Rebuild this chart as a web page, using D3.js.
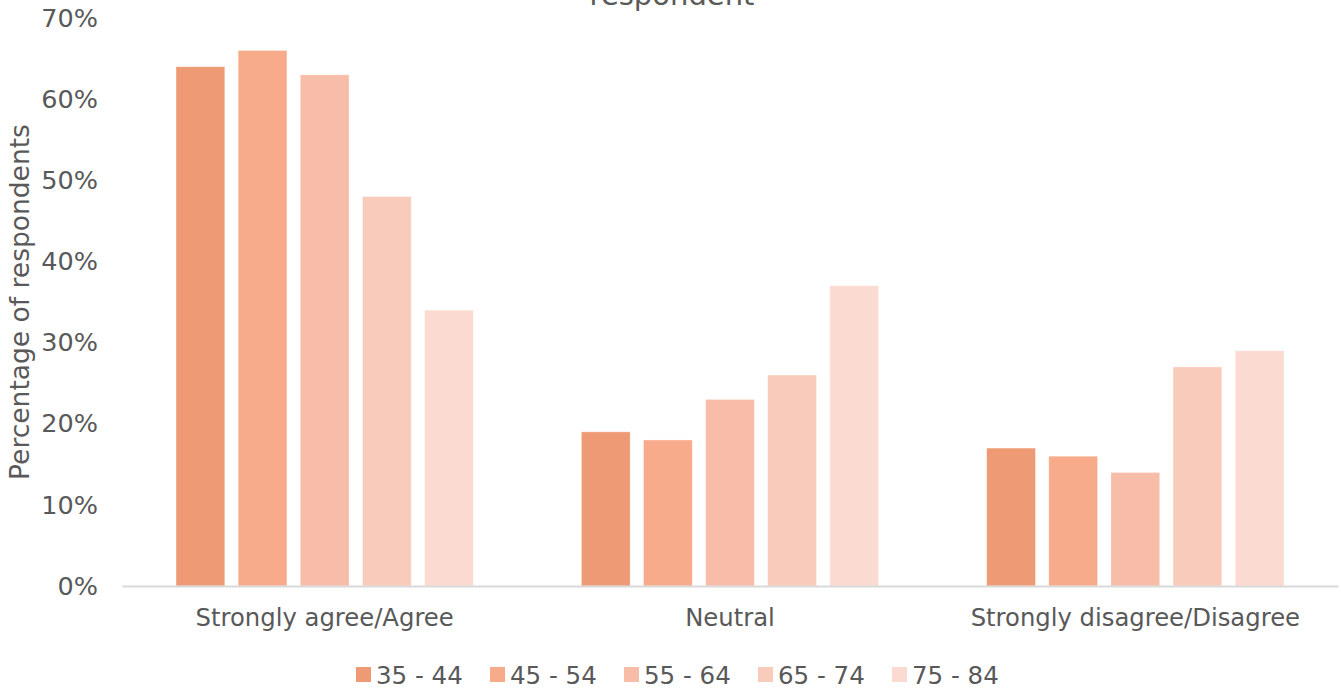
<!DOCTYPE html>
<html>
<head>
<meta charset="utf-8">
<script src="https://cdn.jsdelivr.net/npm/d3@7"></script>
<style>
  html, body { margin: 0; padding: 0; background: #fff; }
  svg { display: block; font-family: "DejaVu Sans", Verdana, sans-serif; }
</style>
</head>
<body>
<svg id="chart" width="1341" height="691"></svg>
<script>
// Responses by age group of respondent
const categories = ["Strongly agree/Agree", "Neutral", "Strongly disagree/Disagree"];
const ageGroups = ["35 - 44", "45 - 54", "55 - 64", "65 - 74", "75 - 84"];
const values = {
  "35 - 44": [64, 19, 17],
  "45 - 54": [66, 18, 16],
  "55 - 64": [63, 23, 14],
  "65 - 74": [48, 26, 27],
  "75 - 84": [34, 37, 29]
};
const colors = ["#EE9B75", "#F8AB8A", "#F8BDA8", "#F9CBBB", "#FBDBD1"];
const yTicks = [0, 10, 20, 30, 40, 50, 60, 70];

const svg = d3.select("#chart");
const W = 1341, H = 691;
const margin = { left: 122, right: 3, top: 18, bottom: 105 };
const textColor = "#595959";

const x0 = d3.scaleBand()
  .domain(categories)
  .range([margin.left, W - margin.right])
  .paddingInner(0)
  .paddingOuter(0);

const x1 = d3.scaleBand()
  .domain(ageGroups)
  .range([54, x0.bandwidth() - 54])
  .paddingInner(0.214)
  .paddingOuter(0);

const y = d3.scaleLinear()
  .domain([0, 70])
  .range([H - margin.bottom, margin.top]);

// Bars
const rows = categories.map((c, i) => ({
  cat: c,
  items: ageGroups.map((g, k) => ({ group: g, value: values[g][i], color: colors[k] }))
}));

svg.append("g")
  .selectAll("g")
  .data(rows)
  .join("g")
  .attr("transform", d => `translate(${x0(d.cat)},0)`)
  .selectAll("rect")
  .data(d => d.items)
  .join("rect")
  .attr("x", d => x1(d.group))
  .attr("y", d => y(d.value))
  .attr("width", x1.bandwidth())
  .attr("height", d => y(0) - y(d.value))
  .attr("fill", d => d.color)
  .attr("stroke", "#ffffff")
  .attr("stroke-opacity", 0.5)
  .attr("stroke-width", 0.75);

// Y axis labels (no axis line)
const yAxis = d3.axisLeft(y)
  .tickValues(yTicks)
  .tickFormat(d => d + "%")
  .tickSize(0)
  .tickPadding(24);

const yg = svg.append("g")
  .attr("transform", `translate(${margin.left},0)`)
  .call(yAxis);
yg.select(".domain").remove();
yg.selectAll("text")
  .attr("fill", textColor)
  .style("font-size", "25.5px")
  .style("font-family", "'DejaVu Sans', Verdana, sans-serif");

// X axis baseline and category labels
const xAxis = d3.axisBottom(x0).tickSize(0).tickPadding(23);
const xg = svg.append("g")
  .attr("transform", `translate(0,${y(0)})`)
  .call(xAxis);
xg.select(".domain").attr("stroke", "#d9d9d9").attr("stroke-width", 2);
xg.selectAll("text")
  .attr("fill", textColor)
  .style("font-size", "24.3px")
  .style("font-family", "'DejaVu Sans', Verdana, sans-serif");

// Y axis title
svg.append("text")
  .attr("transform", `translate(29,${(y(0) + y(70)) / 2}) rotate(-90)`)
  .attr("text-anchor", "middle")
  .attr("fill", textColor)
  .style("font-size", "26.5px")
  .text("Percentage of respondents");

// Chart title (second line)
svg.append("text")
  .attr("x", 672)
  .attr("y", 5)
  .attr("text-anchor", "middle")
  .attr("fill", textColor)
  .style("font-size", "29px")
  .text("respondent");

// Legend
const legend = svg.append("g").attr("transform", `translate(0,675)`);
const legendX = [356, 490, 624, 758, 892];
const li = legend.selectAll("g")
  .data(ageGroups)
  .join("g")
  .attr("transform", (d, i) => `translate(${legendX[i]},0)`);
li.append("rect")
  .attr("x", 0).attr("y", -8)
  .attr("width", 15).attr("height", 15)
  .attr("fill", (d, i) => colors[i]);
li.append("text")
  .attr("x", 20)
  .attr("y", 9)
  .attr("fill", textColor)
  .style("font-size", "24.5px")
  .text(d => d);
</script>
</body>
</html>
